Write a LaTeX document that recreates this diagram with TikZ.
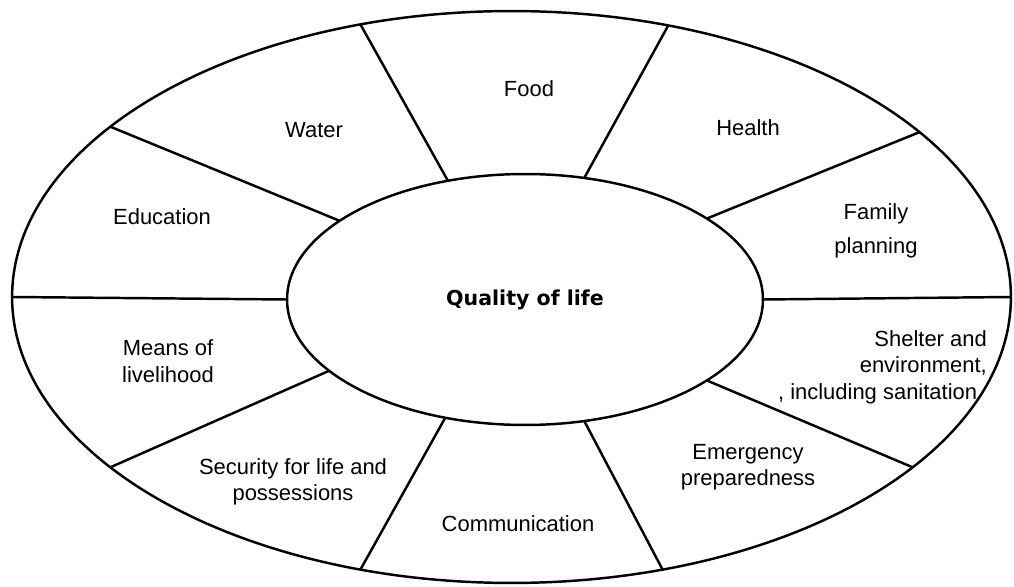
\documentclass[tikz,border=0pt]{standalone}
\usepackage{fontspec}
\setmainfont{Liberation Sans}
\newfontfamily\qualfont{DejaVu Sans}
\usetikzlibrary{shapes.geometric}
\begin{document}
\begin{tikzpicture}[x=0.02cm,y=-0.02cm,line width=1.4pt,
  sector/.style={font=\fontsize{12.5}{15}\selectfont,align=center,inner sep=0pt},
  ring/.style={ellipse,draw,inner sep=0pt,outer sep=0pt}]
\useasboundingbox (0,0) rectangle (1014,587);
\node[ring,minimum width=19.98cm,minimum height=11.44cm] (rim) at (511.5,297) {};
\node[ring,minimum width=9.52cm,minimum height=5.02cm,
  font=\qualfont\bfseries\fontsize{11.7}{14}\selectfont] (core) at (525,299.5) {Quality of life};
\foreach \a/\b in {123.2/119.5,64.8/60.6,24/22,0/-0.8,-24.6/-23.6,-64.5/-61.3,
  236.3/241.2,200.9/203.6,180/180,157.5/157.6}
  \draw (core.\a) -- (rim.\b);

\node[sector] (food) at (529,89) {Food};
\node[sector] (water) at (314,130) {Water};
\node[sector] (health) at (748,128) {Health};
\node[sector] (education) at (162,217) {Education};
\node[sector,font=\fontsize{12.5}{19}\selectfont] (family) at (876,231) {Family\\planning};
\node[sector,align=right,anchor=east] (shelter) at (988,367)
  {Shelter and\\environment,\\, including sanitation\hspace*{5.5pt}};
\node[sector] (emergency) at (748,467) {Emergency\\preparedness};
\node[sector] (communication) at (518,524) {Communication};
\node[sector] (security) at (293,482) {Security for life and\\possessions};
\node[sector] (means) at (168,361) {Means of\\livelihood};
\end{tikzpicture}
\end{document}
